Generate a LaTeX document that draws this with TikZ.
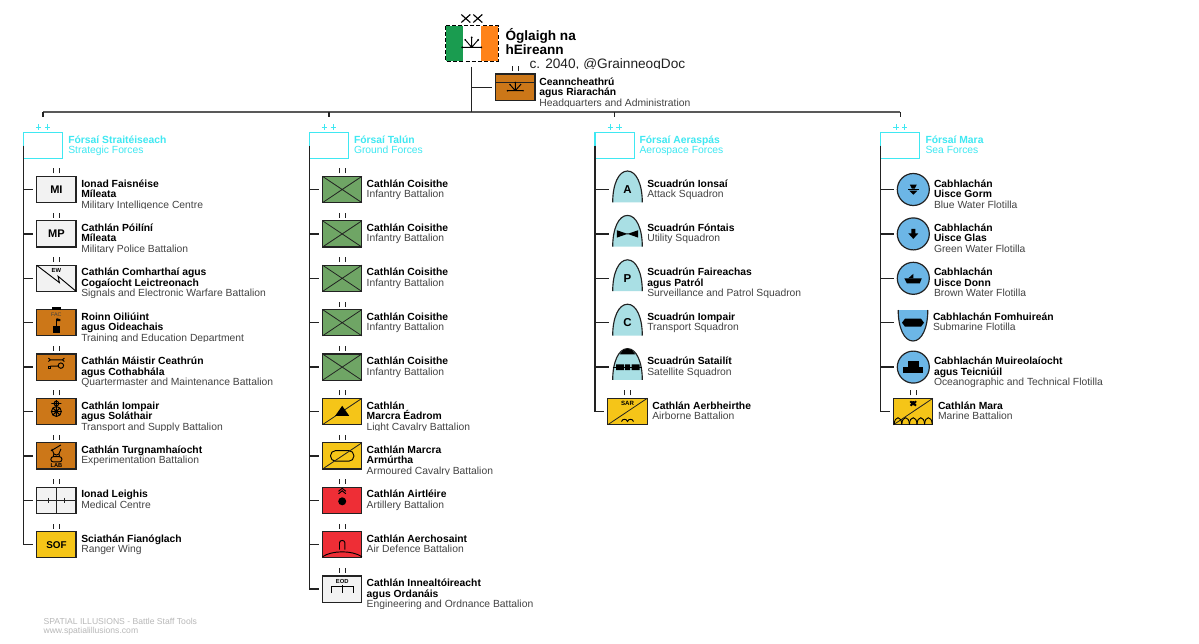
\documentclass[tikz,border=0pt]{standalone}
\usepackage{fontspec}
\setmainfont{Liberation Sans}
\definecolor{cgrey}{HTML}{F2F2F2}
\definecolor{corange}{HTML}{CC7718}
\definecolor{cgreen}{HTML}{6FA565}
\definecolor{cyellow}{HTML}{F5C518}
\definecolor{cred}{HTML}{EE2E36}
\definecolor{cair}{HTML}{A9DFE4}
\definecolor{csea}{HTML}{6CB6E6}
\definecolor{ccyan}{HTML}{3FE8F2}
\definecolor{cink}{HTML}{222222}
\definecolor{cfoot}{HTML}{B8B8B8}
\definecolor{cirgreen}{HTML}{1A9C50}
\definecolor{cirorange}{HTML}{FF8319}
\tikzset{
 ubox/.style={draw=cink,line width=.9pt,minimum width=29.5pt,minimum height=19.7pt,inner sep=0pt,outer sep=0pt},
 airbox/.style={minimum width=22.2pt,minimum height=19.7pt,inner sep=0pt,outer sep=0pt},
 seabox/.style={draw=cink,fill=csea,circle,line width=.9pt,minimum size=24pt,inner sep=0pt,outer sep=0pt},
 grpbox/.style={draw=ccyan,line width=.8pt,minimum width=29.4pt,minimum height=19.8pt,inner sep=0pt,outer sep=0pt},
 ii/.style={draw=cink,line width=.65pt},
 conn/.style={draw=cink,line width=1pt,shorten >=2.8pt},
 trunk/.style={draw=cink,line width=1pt},
 ulab/.style={anchor=north west,inner sep=0pt,outer sep=0pt,align=left,text=cink!85,font=\fontsize{7.75}{7.9}\selectfont},
 glab/.style={ulab,text=ccyan},
 tag/.style={inner sep=0pt,font=\bfseries\fontsize{8.3}{8.3}\selectfont,text=black},
 mini/.style={inner sep=0pt,font=\bfseries\fontsize{4.4}{4.4}\selectfont,text=black},
 sy/.style={draw=black,line width=.7pt},
}
\newcommand\bl[1]{\textcolor{black}{\textbf{#1}}}
\newcommand\btl[4]{\node[ubox,fill=#4] (#1) at (#2,#3) {};
 \draw[ii] ([shift={(-3,-3)}]#1.north) -- ++(0,-5);
 \draw[ii] ([shift={(3,-3)}]#1.north) -- ++(0,-5);}
\newcommand\lab[4]{\begin{scope}\clip (#2-2,#3-16) rectangle (#2+330,#3+19);
 \node[ulab] (#1) at (#2,#3-12.5) {\rule{0pt}{7.5pt}#4};
 \end{scope}}
\newcommand\grp[5]{% name cx textx bold sub
 \node[grpbox] (#1) at (#2,145.5) {};
 \draw[ccyan,line width=.6pt] (#2-7,127) -- (#2-1.7,127) (#2-4.3,124.4) -- (#2-4.3,129.6);
 \draw[ccyan,line width=.6pt] (#2+1.7,127) -- (#2+7,127) (#2+4.3,124.4) -- (#2+4.3,129.6);
 \node[glab] (#1t) at (#3,133) {\rule{0pt}{7.5pt}\textbf{#4}\\#5};
 \draw[conn,shorten >=11.5pt] (#1 |- bar) -- (#1);}
\newcommand\sunb[2]{\begin{scope}[shift={#1},scale=#2]
 \draw[black,line width=.7pt] (-9.5,0) -- (9.5,0) (0,0) -- (0,-10) (0,0) -- (-6.5,-7.5) (0,0) -- (6.5,-7.5);
 \fill (-9.5,0) circle[radius=1] (9.5,0) circle[radius=1] (0,-10) circle[radius=1] (-6.5,-7.5) circle[radius=1] (6.5,-7.5) circle[radius=1];
 \end{scope}}
\newcommand\airsym[3]{% name cx cy
 \node[airbox] (#1) at (#2,#3) {};
 \path[fill=cair,draw=cink,line width=.85pt] (#2-14.8,#3+12.8) .. controls (#2-14.8,#3-5) and (#2-9,#3-18.5) .. (#2,#3-18.5) .. controls (#2+9,#3-18.5) and (#2+14.8,#3-5) .. (#2+14.8,#3+12.8);}
\begin{document}
\begin{tikzpicture}[x=.75pt,y=-.75pt]
\useasboundingbox[fill=white] (0,0) rectangle (1199,643);
% ---- top flag
\node[minimum width=39.5pt,minimum height=26.5pt,inner sep=0pt,outer sep=0pt,fill=white] (flag) at (472,43.3) {};
\fill[cirgreen] (445.7,25.7) rectangle (463.3,61);
\fill[cirorange] (480.7,25.7) rectangle (498.3,61);
\draw[black,line width=.6pt,dash pattern=on 3pt off 1.6pt] (445.7,25.7) rectangle (498.3,61);
\sunb{(471.7,47.3)}{1}
\draw[black,line width=.85pt] (461.3,14.5) -- (470.3,22.5) (461.3,22.5) -- (470.3,14.5) (473.3,14.5) -- (482.3,22.5) (473.3,22.5) -- (482.3,14.5);
\node[anchor=north west,inner sep=0pt,align=left,text=black,font=\bfseries\fontsize{10.2}{10.5}\selectfont] (title) at (505.3,26.7) {\rule{0pt}{10pt}Óglaigh na\\hEireann};
\begin{scope}\clip (525,50) rectangle (720,68.6);
\node[anchor=base west,inner sep=0pt,text=cink,font=\fontsize{10.25}{11}\selectfont] (credit) at (529.3,68.3) {c. 2040, @GrainneogDoc};
\end{scope}
% ---- bar
\coordinate (bar) at (471.7,112);
\coordinate (barL) at (43,112);
\coordinate (barR) at (900.3,112);
\coordinate (hqtop) at (471.7,66.7);
\draw[draw=black!65,line width=1.2pt] (barL) -- (barR);
\draw[trunk] (hqtop) -- (bar);
% HQ
\btl{hq}{515.3}{87.2}{corange}
\draw[cink,line width=.7pt] (495.3,82) -- (535.3,82);
\sunb{(515.3,90.7)}{.82}
\draw[conn] (hq -| hqtop) -- (hq);
\lab{hqt}{539.3}{87.8}{\bl{Ceanncheathrú}\\\bl{agus Riarachán}\\Headquarters and Administration}
% ---- groups
\grp{ga}{43.1}{68.3}{Fórsaí Straitéiseach}{Strategic Forces}
\grp{gb}{328.9}{354}{Fórsaí Talún}{Ground Forces}
\grp{gc}{614.6}{639.5}{Fórsaí Aeraspás}{Aerospace Forces}
\grp{gd}{900.3}{925.5}{Fórsaí Mara}{Sea Forces}
% ---- column 1
\btl{mi}{56.4}{189.5}{cgrey}
\node[tag] (mitag) at (mi) {MI};
\lab{mit}{81.3}{189.5}{\bl{Ionad Faisnéise}\\\bl{Míleata}\\Military Intelligence Centre}
\btl{mp}{56.4}{233.9}{cgrey}
\node[tag] (mptag) at (mp) {MP};
\lab{mpt}{81.3}{233.9}{\bl{Cathlán Póilíní}\\\bl{Míleata}\\Military Police Battalion}
\btl{ew}{56.4}{278.3}{cgrey}
\begin{scope}[shift={(56.4,278.3)}]
\draw[sy] (-19.7,-13) -- (3,4.3) -- (1.7,-2) -- (19.7,13);
\node[mini] (ewtag) at (0,-8) {EW};
\end{scope}
\lab{ewt}{81.3}{278.3}{\bl{Cathlán Comharthaí agus}\\\bl{Cogaíocht Leictreonach}\\Signals and Electronic Warfare Battalion}
\node[ubox,fill=corange] (tr) at (56.4,322.7) {};
\begin{scope}[shift={(56.4,322.7)}]
\fill (-4.5,-16) rectangle (4.5,-13);
\node[inner sep=0pt,font=\fontsize{4}{4}\selectfont,text=black!75] (fac) at (0,-8) {FAC};
\draw[sy] (.3,-4) -- (.3,3);
\fill (.3,-4.5) -- (4,-3.5) -- (4,-1.5) -- (.3,-1.5) -- cycle;
\fill (-3.7,3) rectangle (3.7,10.5);
\end{scope}
\lab{trt}{81.3}{322.7}{\bl{Roinn Oiliúint}\\\bl{agus Oideachais}\\Training and Education Department}
\btl{qm}{56.4}{367.1}{corange}
\begin{scope}[shift={(56.4,367.1)}]
\draw[sy] (-8,-9) -- (-6,-7.3) -- (-8,-5.6) (-6,-7.3) -- (6,-7.3) (8,-9) -- (6,-7.3) -- (8,-5.6);
\draw[sy] (-6,-1) -- (1.8,-1) (4.5,-1.5) circle[radius=2.7];
\draw[sy] (-8,-1) rectangle (-6,1);
\end{scope}
\lab{qmt}{81.3}{367.1}{\bl{Cathlán Máistir Ceathrún}\\\bl{agus Cothabhála}\\Quartermaster and Maintenance Battalion}
\btl{ts}{56.4}{411.5}{corange}
\begin{scope}[shift={(56.4,411.5)}]
\draw[sy] (0,0) circle[radius=5] (-5,0) -- (5,0) (0,-5) -- (0,5) (-3.5,-3.5) -- (3.5,3.5) (-3.5,3.5) -- (3.5,-3.5);
\draw[sy] (-5,-8) -- (5,-8) (0,-11.5) -- (0,-5) (0,-8) circle[radius=2.4];
\end{scope}
\lab{tst}{81.3}{411.5}{\bl{Cathlán Iompair}\\\bl{agus Soláthair}\\Transport and Supply Battalion}
\btl{xp}{56.4}{455.9}{corange}
\begin{scope}[shift={(56.4,455.9)}]
\draw[sy] (-5.5,-5) -- (4.5,-11);
\draw[sy,rounded corners=1.8pt] (-5.5,0.8) rectangle (5.5,6);
\draw[sy] (-4.5,-7) -- (-2.5,-2) .. controls (-1,-.5) and (1,-.5) .. (2.5,-2) -- (4.5,-7);
\draw[sy] (-2.5,-2) -- (-3.2,.8) (2.5,-2) -- (3.2,.8);
\node[mini,font=\bfseries\fontsize{4.3}{4.3}\selectfont] (lab) at (0,9.3) {LAB};
\end{scope}
\lab{xpt}{81.3}{455.9}{\bl{Cathlán Turgnamhaíocht}\\Experimentation Battalion}
\btl{md}{56.4}{500.3}{cgrey}
\draw[draw=cink,line width=.5pt] (md.west) -- (md.east) (md.north) -- (md.south);
\draw[draw=cink,line width=.5pt] (48.4,497.8) -- (48.4,502.8) (64.4,497.8) -- (64.4,502.8);
\lab{mdt}{81.3}{500.3}{\bl{Ionad Leighis}\\Medical Centre}
\btl{sf}{56.4}{544.7}{cyellow}
\node[tag,font=\bfseries\fontsize{7.4}{7.4}\selectfont] (sftag) at (sf) {SOF};
\lab{sft}{81.3}{544.7}{\bl{Sciathán Fianóglach}\\Ranger Wing}
\draw[trunk] (ga.west) -- (ga.west |- sf);
\foreach \n in {mi,mp,ew,tr,qm,ts,xp,md,sf} \draw[conn] (ga.west |- \n) -- (\n);
% ---- column 2
\foreach \n/\yy in {b1/189.5,b2/233.9,b3/278.3,b4/322.7,b5/367.1}{
 \btl{\n}{342.2}{\yy}{cgreen}
 \draw[draw=cink,line width=.6pt] (\n.north west) -- (\n.south east) (\n.south west) -- (\n.north east);
 \lab{\n t}{366.7}{\yy}{\bl{Cathlán Coisithe}\\Infantry Battalion}
}
\btl{b6}{342.2}{411.5}{cyellow}
\draw[draw=cink,line width=.6pt] (b6.south west) -- (b6.north east);
\fill (342.2,405.8) -- (349.2,415.8) -- (335.2,415.8) -- cycle;
\lab{b6t}{366.7}{411.5}{\bl{Cathlán}\\\bl{Marcra Éadrom}\\Light Cavalry Battalion}
\btl{b7}{342.2}{455.9}{cyellow}
\draw[sy,rounded corners=3.8pt] (330.5,450.6) rectangle (353.9,461.2);
\draw[draw=cink,line width=.6pt] (b7.south west) -- (b7.north east);
\lab{b7t}{366.7}{455.9}{\bl{Cathlán Marcra}\\\bl{Armúrtha}\\Armoured Cavalry Battalion}
\btl{b8}{342.2}{500.3}{cred}
\begin{scope}[shift={(342.2,500.3)}]
\fill (0,1) circle[radius=4];
\draw[sy] (-3.7,-6.5) -- (0,-9.5) -- (3.7,-6.5) (-3.7,-9) -- (0,-12) -- (3.7,-9);
\end{scope}
\lab{b8t}{366.7}{500.3}{\bl{Cathlán Airtléire}\\Artillery Battalion}
\btl{b9}{342.2}{544.7}{cred}
\begin{scope}[shift={(342.2,544.7)}]
\draw[sy] (-19.7,12) .. controls (-10,5.5) and (10,5.5) .. (19.7,12);
\draw[sy] (-2.7,5) -- (-2.7,-2) .. controls (-2.7,-5) and (2.7,-5) .. (2.7,-2) -- (2.7,5);
\end{scope}
\lab{b9t}{366.7}{544.7}{\bl{Cathlán Aerchosaint}\\Air Defence Battalion}
\btl{b10}{342.2}{589.1}{cgrey}
\begin{scope}[shift={(342.2,589.1)}]
\node[mini] (eod) at (0,-7.7) {EOD};
\draw[sy] (-10.8,4) -- (-10.8,-2.7) -- (10.8,-2.7) -- (10.8,4) (0,-4) -- (0,4);
\end{scope}
\lab{b10t}{366.7}{589.1}{\bl{Cathlán Innealtóireacht}\\\bl{agus Ordanáis}\\Engineering and Ordnance Battalion}
\draw[trunk] (gb.west) -- (gb.west |- b10);
\foreach \n in {b1,b2,b3,b4,b5,b6,b7,b8,b9,b10} \draw[conn] (gb.west |- \n) -- (\n);
% ---- column 3
\airsym{c1}{627.5}{189.5}
\node[tag,font=\bfseries\fontsize{8.6}{8.6}\selectfont] (c1tag) at (c1) {A};
\lab{c1t}{647.3}{189.5}{\bl{Scuadrún Ionsaí}\\Attack Squadron}
\airsym{c2}{627.5}{233.9}
\fill (616.8,230.2) -- (626,233.4) -- (629,233.4) -- (638.2,230.2) -- (638.2,237.6) -- (629,234.4) -- (626,234.4) -- (616.8,237.6) -- cycle;
\lab{c2t}{647.3}{233.9}{\bl{Scuadrún Fóntais}\\Utility Squadron}
\airsym{c3}{627.5}{278.3}
\node[tag,font=\bfseries\fontsize{8.6}{8.6}\selectfont] (c3tag) at (c3) {P};
\lab{c3t}{647.3}{278.3}{\bl{Scuadrún Faireachas}\\\bl{agus Patról}\\Surveillance and Patrol Squadron}
\airsym{c4}{627.5}{322.7}
\node[tag,font=\bfseries\fontsize{8.6}{8.6}\selectfont] (c4tag) at (c4) {C};
\lab{c4t}{647.3}{322.7}{\bl{Scuadrún Iompair}\\Transport Squadron}
\airsym{c5}{627.5}{367.1}
\begin{scope}[shift={(627.5,367.1)}]
\fill (-7.8,-12.8) .. controls (-5,-16.8) and (-3,-18.5) .. (0,-18.5) .. controls (3,-18.5) and (5,-16.8) .. (7.8,-12.8) -- cycle;
\draw[sy] (-14.8,0) -- (14.8,0);
\fill (-11.5,-2.7) rectangle (-3.5,3) (-2.5,-2.7) rectangle (2.5,3) (4,-2.7) rectangle (12,3);
\end{scope}
\lab{c5t}{647.3}{367.1}{\bl{Scuadrún Satailít}\\Satellite Squadron}
\btl{c6}{627.5}{411.5}{cyellow}
\begin{scope}[shift={(627.5,411.5)}]
\draw[draw=cink,line width=.6pt] (-19.7,13.2) -- (19.7,-13.2);
\node[mini,font=\bfseries\fontsize{4.6}{4.6}\selectfont] (sar) at (0,-8.3) {SAR};
\draw[sy] (-6,10) .. controls (-5,7) and (-1,7) .. (0,10) .. controls (1,7) and (5,7) .. (6,10);
\end{scope}
\lab{c6t}{652.3}{411.5}{\bl{Cathlán Aerbheirthe}\\Airborne Battalion}
\draw[trunk] (gc.west) -- (gc.west |- c6);
\foreach \n in {c1,c2,c3,c4,c5,c6} \draw[conn] (gc.west |- \n) -- (\n);
% ---- column 4
\node[seabox] (d1) at (913.3,189.5) {};
\begin{scope}[shift={(913.3,189.5)}]
\fill (-3.5,-5) -- (3.5,-5) -- (1.5,-1) -- (-1.5,-1) -- cycle;
\fill (-5.5,-.5) rectangle (5.5,.5);
\fill (-4,1.2) -- (4,1.2) -- (0,5.2) -- cycle;
\end{scope}
\lab{d1t}{934}{189.5}{\bl{Cabhlachán}\\\bl{Uisce Gorm}\\Blue Water Flotilla}
\node[seabox] (d2) at (913.3,233.9) {};
\begin{scope}[shift={(913.3,233.9)}]
\fill (-2,-5) -- (2,-5) -- (2,-.5) -- (5,-.5) -- (0,5) -- (-5,-.5) -- (-2,-.5) -- cycle;
\end{scope}
\lab{d2t}{934}{233.9}{\bl{Cabhlachán}\\\bl{Uisce Glas}\\Green Water Flotilla}
\node[seabox] (d3) at (913.3,278.3) {};
\begin{scope}[shift={(913.3,278.3)}]
\fill (-9,0) -- (8.5,0) -- (6.5,5) -- (-6.5,5) -- cycle;
\fill (-5,0) -- (0,-4.5) -- (0,0) -- cycle;
\end{scope}
\lab{d3t}{934}{278.3}{\bl{Cabhlachán}\\\bl{Uisce Donn}\\Brown Water Flotilla}
\node[airbox,minimum height=19.7pt] (d4) at (913,322.7) {};
\begin{scope}[shift={(913,322.7)}]
\path[fill=csea,draw=cink,line width=.85pt] (-14.8,-12.7) .. controls (-14.8,5) and (-9,18.3) .. (0,18.3) .. controls (9,18.3) and (14.8,5) .. (14.8,-12.7);
\fill (-11,0) -- (-8,-4) -- (8,-4) -- (11,0) -- (8,4) -- (-8,4) -- cycle;
\end{scope}
\lab{d4t}{933}{322.7}{\bl{Cabhlachán Fomhuireán}\\Submarine Flotilla}
\node[seabox] (d5) at (913.3,367.1) {};
\begin{scope}[shift={(913.3,367.1)}]
\fill (-10,0) rectangle (10,5.7);
\fill (-5.3,-5.7) rectangle (5.3,0);
\end{scope}
\lab{d5t}{934}{367.1}{\bl{Cabhlachán Muireolaíocht}\\\bl{agus Teicniúil}\\Oceanographic and Technical Flotilla}
\btl{d6}{913.2}{411.5}{cyellow}
\begin{scope}[shift={(913.2,411.5)}]
\draw[draw=cink,line width=.6pt] (-19.7,13.2) -- (19.7,-13.2);
\fill (0,-8.3) circle[radius=2.2] (-2.3,-9.6) circle[radius=1.3] (2.3,-9.6) circle[radius=1.3] (-2,-6.5) circle[radius=1.3] (2,-6.5) circle[radius=1.3];
\foreach \u in {-19,-11.4,-3.8,3.8,11.4}
 \draw[sy] (\u,13) .. controls (\u+.2,4) and (\u+7.4,4) .. (\u+7.6,13);
\end{scope}
\lab{d6t}{938}{411.5}{\bl{Cathlán Mara}\\Marine Battalion}
\draw[trunk] (gd.west) -- (gd.west |- d6);
\foreach \n in {d1,d2,d3,d4,d5,d6} \draw[conn] (gd.west |- \n) -- (\n);
% ---- footer
\node[anchor=base west,inner sep=0pt,text=cfoot,font=\fontsize{6.45}{6.45}\selectfont] (fa) at (43.3,624) {SPATIAL ILLUSIONS - Battle Staff Tools};
\node[anchor=base west,inner sep=0pt,text=cfoot,font=\fontsize{6.45}{6.45}\selectfont] (fb) at (43.3,633) {www.spatialillusions.com};
\end{tikzpicture}
\end{document}
